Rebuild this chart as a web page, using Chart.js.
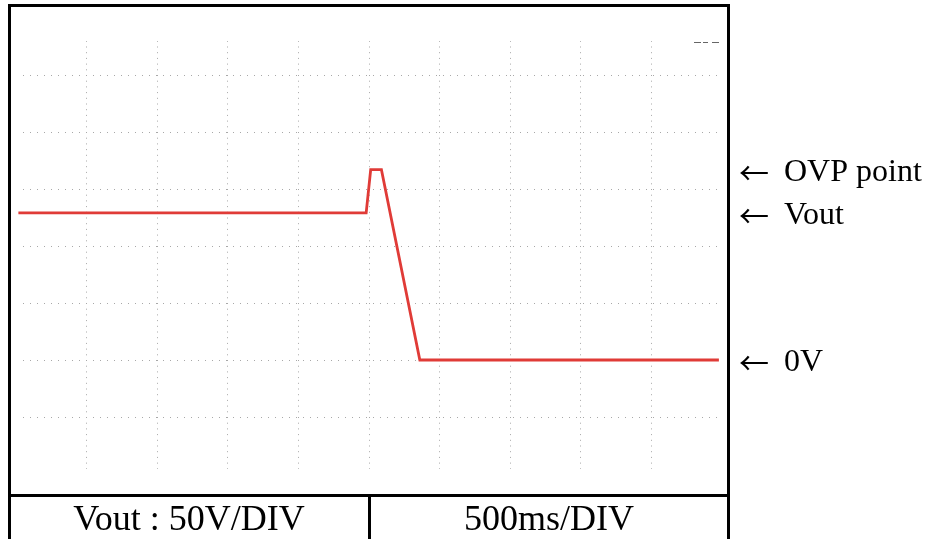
<!DOCTYPE html>
<html>
<head>
<meta charset="utf-8">
<script src="https://cdn.jsdelivr.net/npm/chart.js@4/dist/chart.umd.min.js"></script>
<style>
  html, body { margin: 0; padding: 0; background: #fff; }
  canvas { display: block; }
</style>
</head>
<body>
<canvas id="scope" width="929" height="539"></canvas>
<script>
// trace: time in ms, voltage in V
const timeMs = [17, 2480, 2512, 2588, 2860, 4978];
const volts = [129, 129, 167, 167, 0, 0];

// right-hand markers (value, text)
const markerValues = [167, 129, 0];
const markerTexts = ["OVP point", "Vout", "0V"];

// scale settings, read on the bottom strip
const voltsPerDiv = 50;
const msPerDiv = 500;
const footerTexts = ["Vout : 50V/DIV", "500ms/DIV"];

const serif = "'Liberation Serif', 'Times New Roman', serif";

// trims the dotted graticule a little inside the plot area
const graticuleTrim = {
  id: "graticuleTrim",
  beforeDatasetsDraw(chart) {
    const { ctx, chartArea: a } = chart;
    ctx.save();
    ctx.fillStyle = "#fff";
    ctx.fillRect(a.left - 1, a.top - 1, a.width + 2, 24);
    ctx.fillRect(a.left - 1, a.bottom - 5, a.width + 2, 7);
    ctx.fillRect(a.left - 1, a.top - 1, 5, a.height + 2);
    ctx.fillRect(a.right - 4, a.top - 1, 6, a.height + 2);
    ctx.restore();
  }
};

// frame, footer table and the arrow labels
const scopeFrame = {
  id: "scopeFrame",
  afterDraw(chart) {
    const ctx = chart.ctx;
    const y = chart.scales.y;
    ctx.save();

    ctx.strokeStyle = "#000";
    ctx.lineWidth = 3;
    ctx.beginPath();
    ctx.moveTo(9.5, 541);
    ctx.lineTo(9.5, 5.5);
    ctx.lineTo(728.5, 5.5);
    ctx.lineTo(728.5, 541);
    ctx.moveTo(9.5, 495.5);
    ctx.lineTo(728.5, 495.5);
    ctx.moveTo(369.5, 495.5);
    ctx.lineTo(369.5, 541);
    ctx.stroke();

    // small trigger tick at the top right
    ctx.strokeStyle = "#666";
    ctx.lineWidth = 1;
    ctx.setLineDash([7, 2, 5, 4]);
    ctx.beginPath();
    ctx.moveTo(694, 42.5);
    ctx.lineTo(719, 42.5);
    ctx.stroke();
    ctx.setLineDash([]);

    // footer cells, text centred in each half
    ctx.fillStyle = "#000";
    ctx.font = "36px " + serif;
    ctx.textAlign = "center";
    ctx.textBaseline = "alphabetic";
    ctx.fillText(footerTexts[0], 189, 530);
    ctx.fillText(footerTexts[1], 549, 530);

    ctx.textAlign = "left";
    ctx.textBaseline = "middle";
    markerValues.forEach((v, i) => {
      const py = y.getPixelForValue(v) + 3;
      ctx.font = "30px 'Noto Sans CJK JP'";
      ctx.fillText("\u2190", 739, py);
      ctx.font = "32px " + serif;
      ctx.fillText(markerTexts[i], 784, py);
    });

    ctx.restore();
  }
};

// no dotted line on the outer edges of the graticule
const gridColor = (c) =>
  (c.index === 0 || c.index === c.scale.ticks.length - 1) ? "rgba(0,0,0,0)" : "#a8a8a8";

new Chart(document.getElementById("scope"), {
  type: "line",
  data: {
    datasets: [{
      data: timeMs.map((t, i) => ({ x: t, y: volts[i] })),
      borderColor: "#e03b37",
      borderWidth: 2.8,
      pointRadius: 0,
      tension: 0,
      fill: false
    }]
  },
  options: {
    responsive: false,
    animation: false,
    layout: { padding: { left: 16, right: 207, top: 18, bottom: 65 } },
    plugins: { legend: { display: false }, tooltip: { enabled: false } },
    scales: {
      x: {
        type: "linear",
        min: 0,
        max: msPerDiv * 10,
        ticks: { display: false, stepSize: msPerDiv },
        grid: { color: gridColor, lineWidth: 1, drawTicks: false },
        border: { display: false, dash: [1, 4.7] }
      },
      y: {
        min: -voltsPerDiv * 2,
        max: voltsPerDiv * 6,
        ticks: { display: false, stepSize: voltsPerDiv },
        grid: { color: gridColor, lineWidth: 1, drawTicks: false },
        border: { display: false, dash: [1, 6] }
      }
    }
  },
  plugins: [graticuleTrim, scopeFrame]
});
</script>
</body>
</html>
